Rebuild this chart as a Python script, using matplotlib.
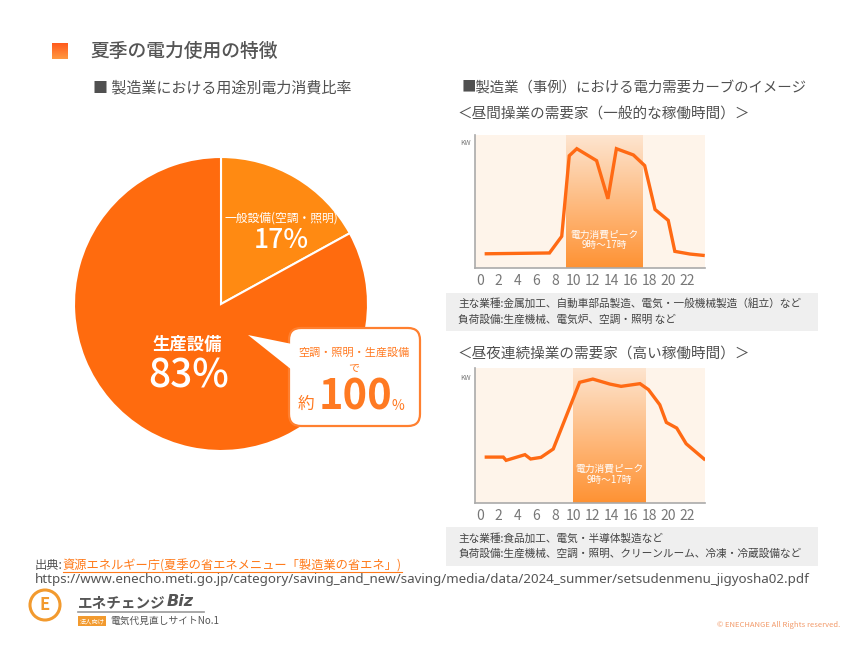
import numpy as np
import matplotlib
matplotlib.use("Agg")
import matplotlib.pyplot as plt
from matplotlib.colors import LinearSegmentedColormap
from matplotlib.patches import FancyBboxPatch, Polygon, Rectangle, Circle

plt.rcParams['font.family'] = ['Noto Sans CJK JP', 'DejaVu Sans']

# pie data
pie_labels = ["一般設備(空調・照明)", "生産設備"]
pie_values = [17, 83]
pie_colors = ['#FF8A12', '#FF6B0E']

# daytime operation curve (hour, kW index)
day_hours = [0.7, 7.4, 8.7, 9.5, 10.3, 12.4, 13.6, 14.5, 16.3, 17.5, 18.6, 20.0, 20.7, 22.3, 23.7]
day_kw = [10.7, 11.3, 23.8, 84.4, 89.7, 80.7, 52.0, 89.7, 85.0, 77.0, 44.0, 35.8, 12.5, 10.5, 9.5]
day_peak = (9.2, 17.3)

# 24h operation curve
full_hours = [0.7, 2.5, 2.8, 4.8, 5.4, 6.5, 7.8, 10.6, 12.0, 13.8, 15.0, 17.0, 17.9, 19.1, 19.8, 20.9, 21.9, 23.8]
full_kw = [34.0, 34.0, 31.6, 35.8, 32.6, 33.8, 40.0, 89.4, 91.8, 88.1, 86.4, 88.4, 84.0, 72.8, 59.7, 55.5, 43.9, 32.6]
full_peak = (9.9, 17.6)

hour_ticks = list(range(0, 24, 2))
peak_text = "電力消費ピーク\n9時～17時"

W, H = 865, 649
fig = plt.figure(figsize=(W / 100, H / 100), dpi=100)
fig.patch.set_facecolor('white')

def fx(px):
    return px / W

def fy(py):
    return 1 - py / H

# ---- pie ----
cx, cy, r = 221, 304, 147
ax_pie = fig.add_axes([fx(cx - r), fy(cy + r), 2 * r / W, 2 * r / H])
ax_pie.pie(pie_values, colors=pie_colors, startangle=90, counterclock=False,
           wedgeprops=dict(edgecolor='white', linewidth=1.5))
ax_pie.set_xlim(-1, 1)
ax_pie.set_ylim(-1, 1)
ax_pie.set_aspect('equal')

# ---- demand curves ----
band_cmap = LinearSegmentedColormap.from_list('band', ['#FF9233', '#FDE5D0'])
grad = np.linspace(0, 1, 256).reshape(-1, 1)

def curve(rect, hours, kw, peak):
    ax = fig.add_axes(rect)
    ax.set_facecolor('#FEF4EA')
    ax.imshow(grad, extent=[peak[0], peak[1], 0, 100], origin='lower',
              cmap=band_cmap, aspect='auto', zorder=1)
    ax.plot(hours, kw, color='#FF6A14', linewidth=2.4, zorder=3,
            solid_joinstyle='miter')
    ax.text((peak[0] + peak[1]) / 2, 21, peak_text, color='white', fontsize=7,
            ha='center', va='center', linespacing=1.1, zorder=4)
    ax.set_xlim(-0.5, 23.9)
    ax.set_ylim(0, 100)
    ax.set_xticks(hour_ticks)
    ax.set_xticklabels([str(h) for h in hour_ticks])
    ax.set_yticks([])
    ax.tick_params(axis='x', length=0, pad=4, labelsize=10, labelcolor='#777777')
    for s in ['top', 'right']:
        ax.spines[s].set_visible(False)
    for s in ['left', 'bottom']:
        ax.spines[s].set_color('#AAAAAA')
        ax.spines[s].set_linewidth(1.2)
    return ax

curve([fx(475), fy(268), 230 / W, 133 / H], day_hours, day_kw, day_peak)
curve([fx(475), fy(503), 230 / W, 135 / H], full_hours, full_kw, full_peak)

# ---- overlay for texts and shapes ----
ov = fig.add_axes([0, 0, 1, 1], facecolor='none')
ov.set_xlim(0, W)
ov.set_ylim(H, 0)
ov.axis('off')

def right_edge(t):
    fig.canvas.draw()
    bb = t.get_window_extent()
    return ov.transData.inverted().transform((bb.x1, bb.y0))

# title with gradient square
sq = np.linspace(0, 1, 64).reshape(-1, 1) * np.ones((1, 64))
ov.imshow(sq, extent=[52, 68, 59, 43],
          cmap=LinearSegmentedColormap.from_list('sq', ['#FF5A1C', '#FF9A42']),
          aspect='auto', zorder=2)
ov.text(90, 51, "夏季の電力使用の特徴", fontsize=13.5, color='#555555',
        ha='left', va='center', fontweight='medium')

ov.text(93, 88, "■ 製造業における用途別電力消費比率", fontsize=10.8, color='#505050',
        ha='left', va='center')
ov.text(462, 88, "■製造業（事例）における電力需要カーブのイメージ", fontsize=10.4,
        color='#505050', ha='left', va='center')
ov.text(457, 115, "＜昼間操業の需要家（一般的な稼働時間）＞", fontsize=10.5,
        color='#505050', ha='left', va='center')
ov.text(457, 354, "＜昼夜連続操業の需要家（高い稼働時間）＞", fontsize=10.5,
        color='#505050', ha='left', va='center')

# KW labels
ov.text(460, 143, "KW", fontsize=5, color='#777777', ha='left', va='center')
ov.text(460, 378, "KW", fontsize=5, color='#777777', ha='left', va='center')

# pie labels
ov.text(281, 218, pie_labels[0], fontsize=8.5, color='white', ha='center', va='center')
ov.text(281, 240, f"{pie_values[0]}%", fontsize=19, color='white', ha='center',
        va='center', fontweight='medium')
ov.text(187, 345, pie_labels[1], fontsize=12.5, color='white', ha='center',
        va='center', fontweight='bold')
ov.text(189, 376, f"{pie_values[1]}%", fontsize=28, color='white', ha='center',
        va='center', fontweight='medium')

# callout bubble
bub = FancyBboxPatch((289, 328), 131, 98, boxstyle="round,pad=0,rounding_size=12",
                     facecolor='white', edgecolor='#FF8030', linewidth=1.6, zorder=3)
ov.add_patch(bub)
ov.add_patch(Polygon([(248, 335), (292, 344), (292, 370)], closed=True,
                     facecolor='white', edgecolor='none', zorder=4))
ov.text(354, 353, "空調・照明・生産設備", fontsize=8, color='#FF7A22', ha='center',
        va='center', zorder=5)
ov.text(354, 369, "で", fontsize=8, color='#FF7A22', ha='center', va='center', zorder=5)
ov.text(306, 404, "約", fontsize=12, color='#FF7A22', ha='center', va='center', zorder=5)
ov.text(355, 398, "100", fontsize=30, color='#FF7A22', ha='center', va='center',
        fontweight='bold', zorder=5)
ov.text(398, 406, "%", fontsize=10, color='#FF7A22', ha='center', va='center',
        zorder=5)

# note boxes
ov.add_patch(Rectangle((446, 293), 372, 38, facecolor='#EFEFEF', edgecolor='none', zorder=1))
ov.text(458, 303, "主な業種:金属加工、自動車部品製造、電気・一般機械製造（組立）など",
        fontsize=7.7, color='#444444', ha='left', va='center', zorder=2)
ov.text(458, 320, "負荷設備:生産機械、電気炉、空調・照明 など",
        fontsize=7.7, color='#444444', ha='left', va='center', zorder=2)
ov.add_patch(Rectangle((446, 527), 372, 39, facecolor='#EFEFEF', edgecolor='none', zorder=1))
ov.text(458, 538, "主な業種:食品加工、電気・半導体製造など",
        fontsize=7.7, color='#444444', ha='left', va='center', zorder=2)
ov.text(458, 554, "負荷設備:生産機械、空調・照明、クリーンルーム、冷凍・冷蔵設備など",
        fontsize=7.7, color='#444444', ha='left', va='center', zorder=2)

# source
t1 = ov.text(35, 566, "出典:", fontsize=8.8, color='#555555', ha='left', va='center')
x1 = right_edge(t1)[0]
t2 = ov.text(x1, 566, "資源エネルギー庁(夏季の省エネメニュー「製造業の省エネ」)",
             fontsize=8.8, color='#FF7A1A', ha='left', va='center')
fig.canvas.draw()
bb2 = t2.get_window_extent()
ux0, uy = ov.transData.inverted().transform((bb2.x0, bb2.y0))
ux1 = ov.transData.inverted().transform((bb2.x1, bb2.y0))[0]
ov.plot([ux0, ux1], [uy - 1, uy - 1], color='#FF7A1A', linewidth=0.8)
ov.text(35, 580, "https://www.enecho.meti.go.jp/category/saving_and_new/saving/media/data/2024_summer/setsudenmenu_jigyosha02.pdf",
        fontsize=9.6, color='#555555', ha='left', va='center',
        family=['Noto Sans', 'DejaVu Sans'])

# logo
ov.add_patch(Circle((45, 605), 15, facecolor='white', edgecolor='#F29A2E', linewidth=2.2, zorder=2))
ov.text(45, 605, "E", fontsize=12, color='#F29A2E', ha='center', va='center',
        fontweight='bold', zorder=3)
t3 = ov.text(78, 602, "エネチェンジ", fontsize=10.5, color='#555555', ha='left',
             va='center', fontweight='bold')
bx = right_edge(t3)[0]
ov.text(bx + 1, 602, "Biz", fontsize=11.5, color='#555555', ha='left', va='center',
        fontweight='bold', fontstyle='italic', family=['DejaVu Sans'])
ov.plot([78, 204], [612, 612], color='#999999', linewidth=1.2)
ov.add_patch(Rectangle((78, 616), 28, 10, facecolor='#F29A2E', edgecolor='none'))
ov.text(92, 621, "法人向け", fontsize=4.5, color='white', ha='center', va='center')
ov.text(110, 621, "電気代見直しサイトNo.1", fontsize=7, color='#555555',
        ha='left', va='center')

ov.text(840, 625, "© ENECHANGE All Rights reserved.", fontsize=5.5, color='#F29A6A',
        ha='right', va='center')

fig.savefig("out.png", dpi=100, facecolor='white')
